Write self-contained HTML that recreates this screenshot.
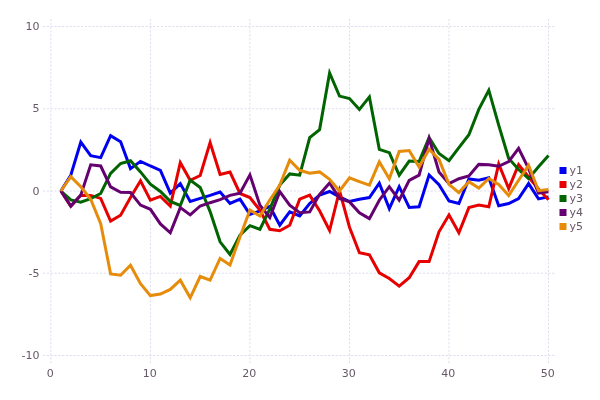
<!DOCTYPE html>
<html><head><meta charset="utf-8"><title>chart</title>
<style>html,body{margin:0;padding:0;background:#fff}svg{display:block}text{font-family:"DejaVu Sans","Liberation Sans",sans-serif;font-size:11px;fill:#665866}</style></head><body>
<svg width="600" height="400" viewBox="0 0 600 400">
<rect width="600" height="400" fill="#fff"/>
<g stroke="#dedeee" stroke-width="1" stroke-dasharray="2.2 1.6" fill="none">
<line x1="43" y1="26.5" x2="556" y2="26.5"/>
<line x1="43" y1="108.8" x2="556" y2="108.8"/>
<line x1="43" y1="191.0" x2="556" y2="191.0"/>
<line x1="43" y1="273.2" x2="556" y2="273.2"/>
<line x1="43" y1="355.5" x2="556" y2="355.5"/>
<line x1="50.9" y1="19" x2="50.9" y2="363.5"/>
<line x1="150.4" y1="19" x2="150.4" y2="363.5"/>
<line x1="249.9" y1="19" x2="249.9" y2="363.5"/>
<line x1="349.5" y1="19" x2="349.5" y2="363.5"/>
<line x1="449.0" y1="19" x2="449.0" y2="363.5"/>
<line x1="548.5" y1="19" x2="548.5" y2="363.5"/>
</g>
<text x="39.5" y="30.1" text-anchor="end">10</text>
<text x="39.5" y="112.3" text-anchor="end">5</text>
<text x="39.5" y="194.6" text-anchor="end">0</text>
<text x="39.5" y="276.9" text-anchor="end">-5</text>
<text x="39.5" y="359.1" text-anchor="end">-10</text>
<text x="50.2" y="377" text-anchor="middle">0</text>
<text x="149.7" y="377" text-anchor="middle">10</text>
<text x="249.2" y="377" text-anchor="middle">20</text>
<text x="348.8" y="377" text-anchor="middle">30</text>
<text x="448.3" y="377" text-anchor="middle">40</text>
<text x="547.8" y="377" text-anchor="middle">50</text>
<g fill="none" stroke-width="3" stroke-miterlimit="10" stroke-linejoin="miter" stroke-linecap="butt">
<polyline stroke="#0000f0" points="60.9,191.0 70.8,175.2 80.8,142.1 90.7,155.6 100.7,157.6 110.6,135.7 120.6,141.8 130.5,168.6 140.5,161.4 150.4,166.0 160.4,170.3 170.3,193.1 180.3,183.6 190.2,201.4 200.2,198.4 210.1,195.4 220.1,192.0 230.0,203.5 240.0,199.2 249.9,214.4 259.9,210.9 269.8,206.5 279.8,225.2 289.7,211.9 299.7,216.0 309.7,203.5 319.6,195.1 329.6,191.5 339.5,196.8 349.5,201.5 359.4,199.2 369.4,197.6 379.3,183.1 389.3,208.6 399.2,186.7 409.2,207.4 419.1,206.8 429.1,175.0 439.0,184.7 449.0,201.0 458.9,203.5 468.9,179.0 478.8,180.3 488.8,177.7 498.7,205.8 508.7,203.5 518.6,198.6 528.6,183.6 538.5,198.9 548.5,196.9"/>
<polyline stroke="#e60000" points="60.9,191.0 70.8,206.3 80.8,195.3 90.7,195.4 100.7,198.4 110.6,221.1 120.6,215.2 130.5,197.6 140.5,180.8 150.4,200.2 160.4,196.4 170.3,206.0 180.3,162.7 190.2,180.3 200.2,175.5 210.1,142.6 220.1,174.4 230.0,172.1 240.0,193.5 249.9,197.6 259.9,210.1 269.8,229.3 279.8,230.8 289.7,225.2 299.7,199.2 309.7,195.1 319.6,210.7 329.6,230.5 339.5,190.7 349.5,227.2 359.4,252.7 369.4,254.8 379.3,272.8 389.3,278.5 399.2,286.1 409.2,277.7 419.1,261.6 429.1,261.6 439.0,231.8 449.0,214.9 458.9,232.8 468.9,207.6 478.8,205.1 488.8,206.8 498.7,164.0 508.7,188.5 518.6,164.7 528.6,177.0 538.5,188.9 548.5,199.7"/>
<polyline stroke="#006400" points="60.9,191.0 70.8,199.9 80.8,202.2 90.7,198.7 100.7,193.5 110.6,173.4 120.6,163.5 130.5,160.7 140.5,171.9 150.4,184.1 160.4,191.5 170.3,201.4 180.3,205.5 190.2,180.1 200.2,187.5 210.1,211.6 220.1,241.8 230.0,254.5 240.0,235.1 249.9,225.7 259.9,229.3 269.8,209.1 279.8,185.1 289.7,173.9 299.7,175.2 309.7,137.5 319.6,129.6 329.6,72.9 339.5,96.1 349.5,98.6 359.4,109.4 369.4,96.9 379.3,149.4 389.3,152.7 399.2,175.2 409.2,161.1 419.1,161.6 429.1,137.5 439.0,153.5 449.0,160.6 458.9,147.6 468.9,134.7 478.8,109.4 488.8,90.2 498.7,125.2 508.7,158.4 518.6,169.5 528.6,178.7 538.5,166.8 548.5,155.5"/>
<polyline stroke="#640070" points="60.9,191.0 70.8,206.0 80.8,195.1 90.7,164.8 100.7,166.0 110.6,186.9 120.6,192.3 130.5,192.6 140.5,205.1 150.4,209.3 160.4,223.9 170.3,232.8 180.3,207.6 190.2,214.9 200.2,206.0 210.1,202.7 220.1,199.7 230.0,195.4 240.0,193.1 249.9,174.9 259.9,205.1 269.8,217.6 279.8,191.7 289.7,205.1 299.7,212.7 309.7,211.9 319.6,194.3 329.6,182.9 339.5,198.4 349.5,201.9 359.4,212.7 369.4,218.6 379.3,200.2 389.3,186.7 399.2,200.2 409.2,180.3 419.1,175.2 429.1,138.4 439.0,171.9 449.0,183.6 458.9,178.7 468.9,176.0 478.8,164.4 488.8,164.8 498.7,166.3 508.7,161.6 518.6,148.4 528.6,168.6 538.5,193.0 548.5,191.8"/>
<polyline stroke="#e68c0a" points="60.9,191.0 70.8,176.7 80.8,186.7 90.7,199.2 100.7,223.6 110.6,273.9 120.6,275.2 130.5,265.2 140.5,283.6 150.4,295.6 160.4,294.0 170.3,289.4 180.3,280.2 190.2,297.8 200.2,276.5 210.1,280.2 220.1,258.4 230.0,264.9 240.0,236.9 249.9,209.9 259.9,216.0 269.8,200.0 279.8,185.1 289.7,160.2 299.7,170.3 309.7,173.2 319.6,171.9 329.6,179.3 339.5,191.0 349.5,177.8 359.4,181.6 369.4,185.2 379.3,161.9 389.3,178.8 399.2,151.5 409.2,150.5 419.1,167.1 429.1,149.2 439.0,159.4 449.0,184.4 458.9,192.6 468.9,181.8 478.8,188.0 488.8,178.5 498.7,184.4 508.7,195.6 518.6,180.3 528.6,165.3 538.5,190.7 548.5,189.4"/>
</g>
<rect x="559.5" y="167" width="7" height="7" fill="#0000f0"/>
<text x="569.5" y="173.6" fill="#453545">y1</text>
<rect x="559.5" y="181" width="7" height="7" fill="#e60000"/>
<text x="569.5" y="187.6" fill="#453545">y2</text>
<rect x="559.5" y="195" width="7" height="7" fill="#006400"/>
<text x="569.5" y="201.6" fill="#453545">y3</text>
<rect x="559.5" y="209" width="7" height="7" fill="#640070"/>
<text x="569.5" y="215.6" fill="#453545">y4</text>
<rect x="559.5" y="223" width="7" height="7" fill="#e68c0a"/>
<text x="569.5" y="229.6" fill="#453545">y5</text>
</svg></body></html>
